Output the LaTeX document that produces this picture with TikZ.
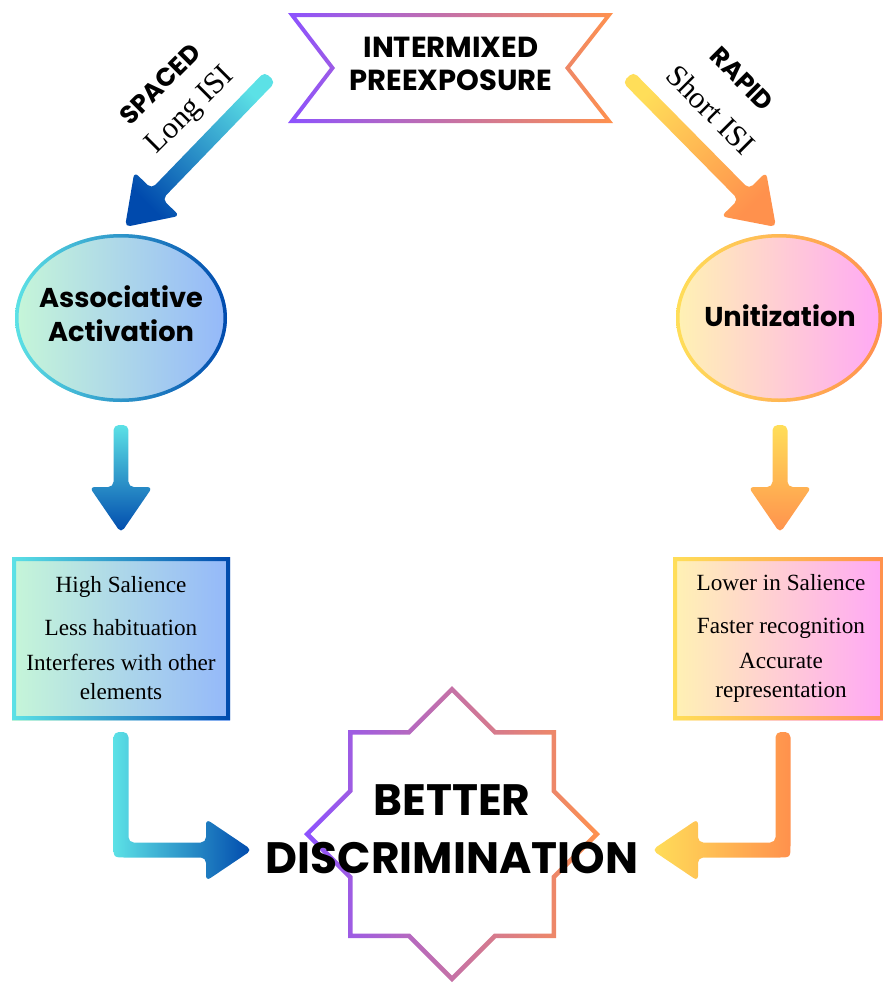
\documentclass[tikz,border=0pt]{standalone}
\usepackage{fontspec}
\setmainfont{Liberation Serif}
\newfontfamily\headfont{Poppins}
\usetikzlibrary{calc}
\usetikzlibrary{backgrounds}

\definecolor{aqua}{HTML}{5CE1E6}
\definecolor{navy}{HTML}{004AAD}
\definecolor{mint}{HTML}{C6F6D8}
\definecolor{sky}{HTML}{94B8FA}
\definecolor{sun}{HTML}{FFDE59}
\definecolor{tang}{HTML}{FF914D}
\definecolor{cream}{HTML}{FFF2B3}
\definecolor{pinky}{HTML}{FFA8F5}
\definecolor{grape}{HTML}{8C52FF}

\tikzset{
  heading/.style={font=\headfont\bfseries\fontsize{16.5}{18.8}\selectfont, align=center},
  bubble/.style={font=\headfont\bfseries\fontsize{15.5}{19.3}\selectfont, align=center},
  outcome/.style={font=\headfont\bfseries\fontsize{25}{33}\selectfont, align=center},
  note/.style={font=\fontsize{13.2}{16.5}\selectfont, align=center},
  route/.style={font=\headfont\bfseries\fontsize{14.5}{17}\selectfont},
  pace/.style={font=\fontsize{17.5}{20}\selectfont},
}

% straight block arrow: tail, tip, shading
\newcommand{\blockarrow}[3]{%
  \coordinate (hb) at ($(#2)!0.92cm!(#1)$);
  \shade[#3, rounded corners=3pt]
    ($(#1)!0.15cm!90:(#2)$) -- ($(hb)!0.15cm!90:(#2)$) -- ($(hb)!0.63cm!90:(#2)$)
    -- (#2) -- ($(hb)!0.63cm!-90:(#2)$) -- ($(hb)!0.15cm!-90:(#2)$)
    -- ($(#1)!0.15cm!-90:(#2)$) -- cycle;}

% eight pointed star, outer radius and half side
\newcommand{\starpath}[2]{(0,-#1) -- (#1-#2,-#2) -- (#2,-#2) -- (#2,-#1+#2) -- (#1,0)
  -- (#2,#1-#2) -- (#2,#2) -- (#1-#2,#2) -- (0,#1) -- (-#1+#2,#2) -- (-#2,#2)
  -- (-#2,#1-#2) -- (-#1,0) -- (-#2,-#1+#2) -- (-#2,-#2) -- (-#1+#2,-#2) -- cycle}

\begin{document}
\begin{tikzpicture}[x=0.02cm, y=-0.02cm]
\useasboundingbox (0,0) rectangle (883,985);

\node[heading] (intermix) at (451,64) {INTERMIXED\\PREEXPOSURE};
\node[bubble] (assoc) at (121,314) {Associative\\Activation};
\node[bubble] (unit) at (780,316) {Unitization};
\node[note] (assocnote) at (121,638) {High Salience\\[8pt] Less habituation\\[3.4pt] Interferes with other\\elements};
\node[note] (unitnote) at (781,638) {Lower in Salience\\[8pt] Faster recognition\\[3.4pt] Accurate\\representation};
\node[outcome] (better) at (452,829) {BETTER\\DISCRIMINATION};

\node[route, rotate=45] (spaced) at (160,84) {SPACED};
\node[pace, rotate=45] (long) at (191,111) {Long ISI};
\node[route, rotate=-45] (rapid) at (742,79) {RAPID};
\node[pace, rotate=-45] (short) at (711,110) {Short ISI};

\coordinate (sp0) at (270,77);  \coordinate (sp1) at (125,227);
\coordinate (ra0) at (628,77);  \coordinate (ra1) at (776,227);
\coordinate (ad0) at (121,425); \coordinate (ad1) at (121,533);
\coordinate (ud0) at (780,425); \coordinate (ud1) at (780,533);
\coordinate (al0) at (121,732); \coordinate (al1) at (121,850); \coordinate (al2) at (252,850);
\coordinate (ul0) at (783,732); \coordinate (ul1) at (783,850); \coordinate (ul2) at (652,850);

\begin{scope}[on background layer]
  % banner
  \shade[left color=grape, right color=tang, even odd rule]
    (288,13) -- (613,13) -- (570,68) -- (613,123) -- (288,123) -- (330,68) -- cycle
    (296,17) -- (605,17) -- (565,68) -- (605,119) -- (296,119) -- (335,68) -- cycle;

  % ellipses
  \shade[left color=mint, right color=sky] (121,318) ellipse [x radius=106, y radius=84];
  \shade[left color=aqua, right color=navy, even odd rule]
    (121,318) ellipse [x radius=106, y radius=84] (121,318) ellipse [x radius=102.5, y radius=80.5];
  \shade[left color=cream, right color=pinky] (779,318) ellipse [x radius=103, y radius=84];
  \shade[left color=sun, right color=tang, even odd rule]
    (779,318) ellipse [x radius=103, y radius=84] (779,318) ellipse [x radius=99.5, y radius=80.5];

  % boxes
  \shade[left color=mint, right color=sky] (12,557) rectangle (230,720);
  \shade[left color=aqua, right color=navy, even odd rule]
    (12,557) rectangle (230,720) (16,561) rectangle (226,716);
  \shade[left color=cream, right color=pinky] (673,557) rectangle (884,720);
  \shade[left color=sun, right color=tang, even odd rule]
    (673,557) rectangle (884,720) (677,561) rectangle (880,716);

  % star
  \shade[left color=grape, right color=tang, even odd rule, shift={(452,834)}]
    \starpath{148}{104} \starpath{141.6}{99.5};

  % arrows
  \blockarrow{sp0}{sp1}{top color=aqua, bottom color=navy, shading angle=-45}
  \blockarrow{ra0}{ra1}{top color=sun, bottom color=tang, shading angle=45}
  \blockarrow{ad0}{ad1}{top color=aqua, bottom color=navy}
  \blockarrow{ud0}{ud1}{top color=sun, bottom color=tang}

  \shade[left color=aqua, right color=navy, rounded corners=3pt]
    ($(al0)+(-7.5,0)$) -- ($(al0)+(7.5,0)$) -- ($(al1)+(7.5,-7.5)$) -- ($(al2)+(-46,-7.5)$)
    -- ($(al2)+(-46,-31)$) -- (al2) -- ($(al2)+(-46,31)$) -- ($(al2)+(-46,7.5)$)
    -- ($(al1)+(10,7.5)$) .. controls ($(al1)+(-7.5,7.5)$) .. ($(al1)+(-7.5,-10)$) -- cycle;
  \shade[left color=sun, right color=tang, rounded corners=3pt]
    ($(ul0)+(7.5,0)$) -- ($(ul0)+(-7.5,0)$) -- ($(ul1)+(-7.5,-7.5)$) -- ($(ul2)+(46,-7.5)$)
    -- ($(ul2)+(46,-31)$) -- (ul2) -- ($(ul2)+(46,31)$) -- ($(ul2)+(46,7.5)$)
    -- ($(ul1)+(-10,7.5)$) .. controls ($(ul1)+(7.5,7.5)$) .. ($(ul1)+(7.5,-10)$) -- cycle;
\end{scope}

\end{tikzpicture}
\end{document}
